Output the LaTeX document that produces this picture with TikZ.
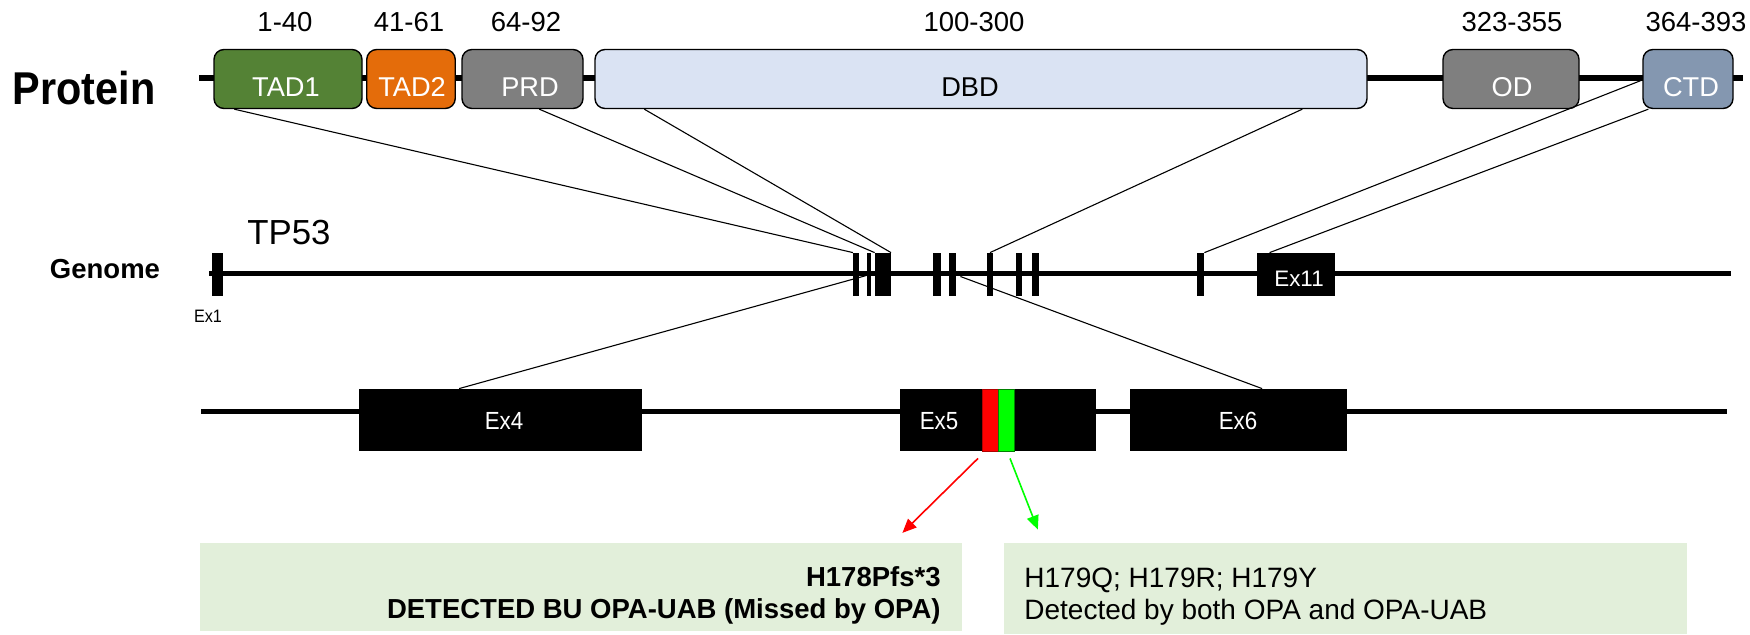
\documentclass[tikz,border=0pt]{standalone}
\usepackage{fontspec}
\setmainfont{Liberation Sans}
\newfontfamily\narrowsans[FakeStretch=0.9]{Liberation Sans}
\usetikzlibrary{calc,arrows.meta}

\definecolor{tadone}{HTML}{548235}
\definecolor{tadtwo}{HTML}{E46C0A}
\definecolor{domgray}{HTML}{7F7F7F}
\definecolor{dbdblue}{HTML}{DAE3F3}
\definecolor{ctdblue}{HTML}{8497B0}
\definecolor{notegreen}{HTML}{E2EFDA}
\definecolor{mutred}{HTML}{FF0000}
\definecolor{mutgreen}{HTML}{00FF00}

\newcommand{\fsz}[1]{\fontsize{#1}{#1}\selectfont}

\tikzset{
  backbone/.style={line width=2.6pt},
  protdom/.style={draw=black, line width=0.7pt, rounded corners=5pt, minimum height=29.5pt, inner sep=0pt},
  domlbl/.style={anchor=base, inner sep=0pt, font=\fsz{13.6pt}},
  rangelbl/.style={anchor=base, inner sep=0pt, font=\fsz{13.75pt}},
  exbar/.style={fill=black, inner sep=0pt, minimum height=21.5pt},
  exbox/.style={fill=black, inner sep=0pt, minimum height=31pt},
  exlbl/.style={anchor=base, inner sep=0pt, text=white, font=\narrowsans\fsz{12.4pt}},
  link/.style={line width=0.55pt},
  notebox/.style={fill=notegreen, inner sep=0pt},
  mutarrow/.style={line width=0.8pt, -{Triangle[length=7pt,width=6pt]}},
}

\begin{document}
\begin{tikzpicture}[x=0.5pt,y=-0.5pt]
\useasboundingbox (0,0) rectangle (1750,635);

% ---------------- protein ----------------
\draw[backbone] (199,78) -- (1743,78);
\node[protdom, fill=tadone,  minimum width=74pt]   (tad1) at (288,79) {};
\node[protdom, fill=tadtwo,  minimum width=44.25pt](tad2) at (411,79) {};
\node[protdom, fill=domgray, minimum width=60.5pt] (prd)  at (522.5,79) {};
\node[protdom, fill=dbdblue, minimum width=386pt]  (dbd)  at (981,79) {};
\node[protdom, fill=domgray, minimum width=68pt]   (od)   at (1511,79) {};
\node[protdom, fill=ctdblue, minimum width=45pt]   (ctd)  at (1688,79) {};

\node[domlbl, text=white] (ltad1) at (286,97) {TAD1};
\node[domlbl, text=white] (ltad2) at (412,97) {TAD2};
\node[domlbl, text=white] (lprd)  at (530,97) {PRD};
\node[domlbl]             (ldbd)  at (970,97) {DBD};
\node[domlbl, text=white] (lod)   at (1512,97) {OD};
\node[domlbl, text=white] (lctd)  at (1691,97) {CTD};

\node[rangelbl] (r1) at (285,32) {1-40};
\node[rangelbl] (r2) at (409,32) {41-61};
\node[rangelbl] (r3) at (526,32) {64-92};
\node[rangelbl] (r4) at (974,32) {100-300};
\node[rangelbl] (r5) at (1512,32) {323-355};
\node[rangelbl] (r6) at (1696,32) {364-393};

\node[anchor=base, inner sep=0pt, font=\narrowsans\fsz{23pt}\bfseries] (protein) at (84,105) {Protein};

% ---------------- genome ----------------
\node[anchor=base, inner sep=0pt, font=\fsz{13.75pt}\bfseries] (genome) at (105,279) {Genome};
\node[anchor=base, inner sep=0pt, font=\fsz{17.4pt}] (tp53) at (289,245) {TP53};
\draw[backbone] (209,273.5) -- (1731,273.5);

\node[exbar, minimum width=5.25pt] (g1)  at (217.5,274.5) {};
\node[exbar, minimum width=3pt]    (g2)  at (856.3,274.5) {};
\node[exbar, minimum width=2.2pt]  (g3)  at (868.9,274.5) {};
\node[exbar, minimum width=7.8pt]  (g4)  at (882.8,274.5) {};
\node[exbar, minimum width=3.7pt]  (g5)  at (937,274.5) {};
\node[exbar, minimum width=3.4pt]  (g6)  at (952.6,274.5) {};
\node[exbar, minimum width=3.3pt]  (g7)  at (990,274.5) {};
\node[exbar, minimum width=3pt]    (g8)  at (1019,274.5) {};
\node[exbar, minimum width=3.3pt]  (g9)  at (1035.3,274.5) {};
\node[exbar, minimum width=3.5pt]  (g10) at (1200.5,274.5) {};
\node[exbar, minimum width=39pt]   (g11) at (1296,274.5) {};
\node[anchor=base, inner sep=0pt, text=white, font=\fsz{11.2pt}] (lg11) at (1299,287) {Ex11};
\node[anchor=base, inner sep=0pt, font=\narrowsans\fsz{9pt}] (lg1) at (208,323) {Ex1};

% ---------------- exon 4-6 detail ----------------
\draw[line width=2.3pt] (201,411.5) -- (1727,411.5);
\node[exbox, minimum width=141.5pt] (x4) at (500,420) {};
\node[exbox, minimum width=98pt]    (x5) at (998,420) {};
\node[exbox, minimum width=108.5pt] (x6) at (1238,420) {};
\node[fill=mutred,   draw=red!70!black,   line width=0.4pt, inner sep=0pt, minimum width=8pt, minimum height=31pt] (mred)   at (990,420) {};
\node[fill=mutgreen, draw=green!50!black, line width=0.4pt, inner sep=0pt, minimum width=8pt, minimum height=31pt] (mgreen) at (1006,420) {};
\node[exlbl] (lx4) at (504,430) {Ex4};
\node[exlbl] (lx5) at (939,430) {Ex5};
\node[exlbl] (lx6) at (1238,430) {Ex6};

% ---------------- protein-to-gene links ----------------
\draw[link] ($(tad1.south west)+(21,0)$) -- (g2.north west);
\draw[link] ($(prd.south west)+(78,0)$)  -- (g4.north west);
\draw[link] ($(dbd.south west)+(50,0)$)  -- (g4.north east);
\draw[link] ($(dbd.south west)+(708,0)$) -- (g7.north);
\draw[link] ($(ctd.west)+(0,1)$)         -- (g10.north east);
\draw[link] ($(ctd.south west)+(6,0)$)   -- ($(g11.north west)+(13,0)$);
\draw[link] ($(g3.west)+(0,1)$) -- ($(x4.north west)+(101,0)$);
\draw[link] ($(g6.east)+(4,2)$) -- ($(x6.north west)+(133,0)$);

% ---------------- variant notes ----------------
\node[notebox, minimum width=381pt, minimum height=43.75pt] (lbox) at (581,587) {};
\node[notebox, minimum width=341.5pt, minimum height=45.5pt] (rbox) at (1345.75,588.5) {};

\node[anchor=base east, inner sep=0pt, font=\fsz{13.75pt}\bfseries] (lt1) at (941,587) {H178Pfs*3};
\node[anchor=base east, inner sep=0pt, font=\fsz{13.75pt}\bfseries] (lt2) at (941,618) {DETECTED BU OPA-UAB (Missed by OPA)};
\node[anchor=base west, inner sep=0pt, font=\fsz{14pt}] (rt1) at (1024,588) {H179Q; H179R; H179Y};
\node[anchor=base west, inner sep=0pt, font=\fsz{14pt}] (rt2) at (1024,619) {Detected by both OPA and OPA-UAB};

\draw[mutarrow, draw=mutred, fill=mutred] ($(mred.south)+(-12,7)$) -- ($(lbox.north east)+(-60,-10)$);
\draw[mutarrow, draw=mutgreen, fill=mutgreen] ($(mgreen.south)+(4,7)$) -- ($(rbox.north west)+(34,-13)$);
\end{tikzpicture}
\end{document}
